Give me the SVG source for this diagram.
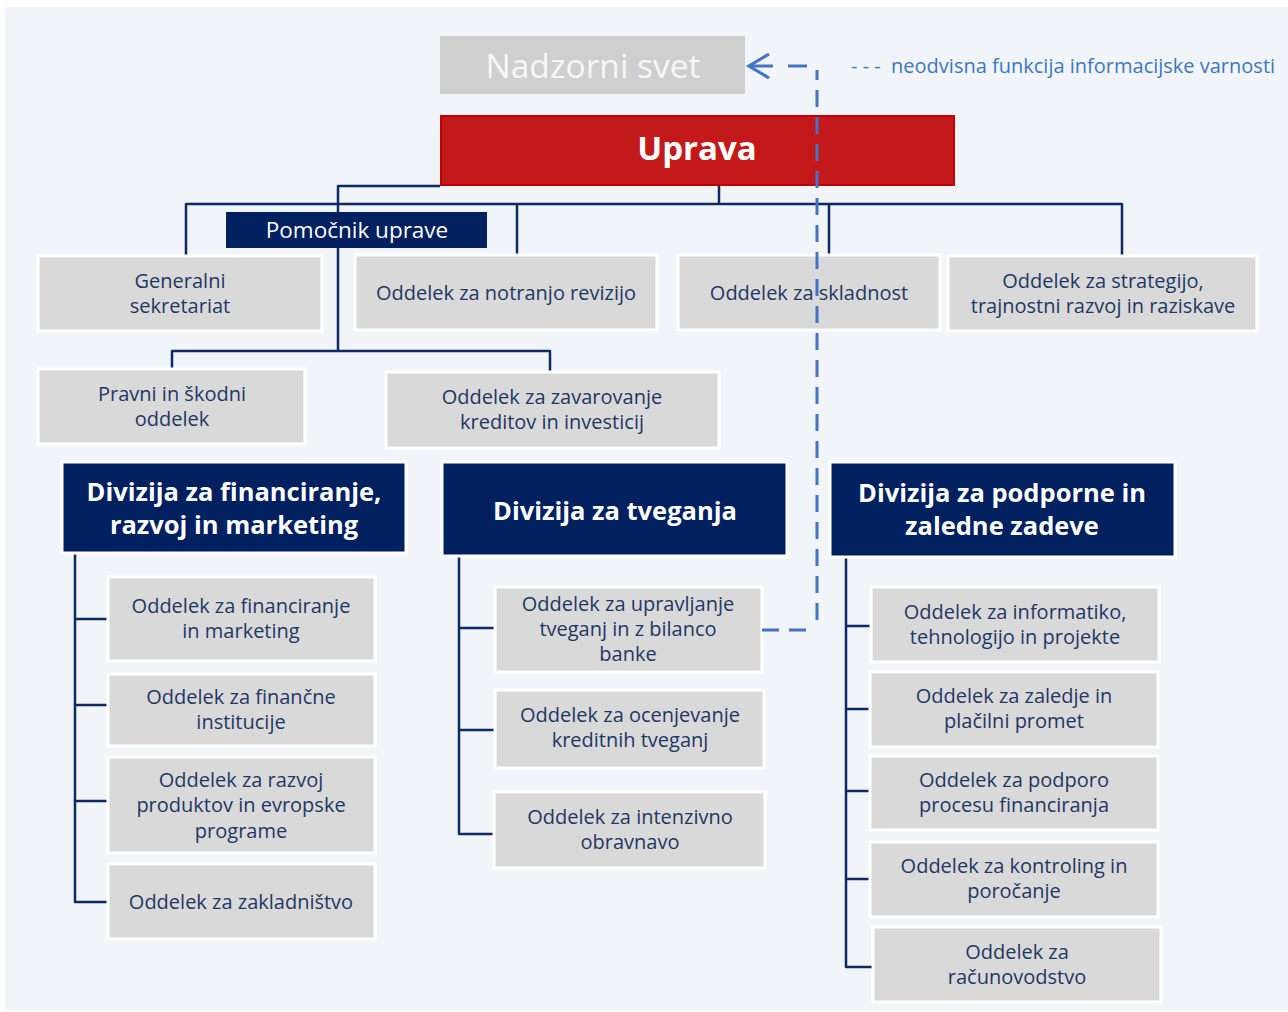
<svg xmlns="http://www.w3.org/2000/svg" width="1288" height="1012" viewBox="0 0 1288 1012">
<style>
.bg{fill:#f1f5f9}
.box{fill:#d9d9d9;stroke:#ffffff;stroke-width:3}
.div{fill:#002060;stroke:#ffffff;stroke-width:3}
.t{font-family:"Open Sans","Noto Sans",sans-serif;font-size:20px;fill:#1f3864;text-anchor:middle}
.dt{font-family:"Open Sans","Noto Sans",sans-serif;font-size:25.5px;font-weight:700;fill:#ffffff;text-anchor:middle}
.ln{fill:none;stroke:#0d2a66;stroke-width:2.5;stroke-linejoin:round}
.dash{fill:none;stroke:#4472c4;stroke-width:3;stroke-dasharray:17 10}
.sec{fill:none;stroke:#4472c4;stroke-width:3}
</style>
<defs>
<marker id="arr" markerWidth="26" markerHeight="28" refX="22" refY="13" orient="auto" markerUnits="userSpaceOnUse">
<path d="M2,1 L22,13 L2,25" fill="none" stroke="#4472c4" stroke-width="3.2"/>
</marker>
</defs>
<rect x="5" y="7" width="1283" height="1004" class="bg"/>

<g id="connectors">
<path class="ln" d="M440,186 H338 V351"/>
<path class="ln" d="M719,186 V204"/>
<path class="ln" d="M186,256 V204 H1122 V256"/>
<path class="ln" d="M517,204 V256"/>
<path class="ln" d="M829,204 V256"/>
<path class="ln" d="M172,370 V351 H550 V372"/>
<path class="ln" d="M75,553 V902 H108"/>
<path class="ln" d="M75,619 H108 M75,705 H108 M75,801 H108"/>
<path class="ln" d="M459,556 V834 H495"/>
<path class="ln" d="M459,628 H495 M459,730 H495"/>
<path class="ln" d="M846,557 V967 H873"/>
<path class="ln" d="M846,626 H871 M846,709 H870 M846,791 H870 M846,879 H870"/>
</g>

<g id="nadzorni-svet">
<rect x="440" y="36" width="305" height="58" fill="#d0cfd0"/>
<text x="593" y="78" font-family="'Open Sans','Noto Sans',sans-serif" font-size="33.5" fill="#f7f7f7" text-anchor="middle">Nadzorni svet</text>
</g>

<g id="uprava">
<rect x="441" y="116" width="513" height="69" fill="#c3191a" stroke="#c00000" stroke-width="2"/>
<text x="697" y="160" font-family="'Open Sans','Noto Sans',sans-serif" font-size="33" font-weight="700" fill="#ffffff" text-anchor="middle">Uprava</text>
</g>

<g id="pomocnik-uprave">
<rect x="226" y="212" width="261" height="36" fill="#002060"/>
<text x="357" y="238" font-family="'Open Sans','Noto Sans',sans-serif" font-size="22.5" fill="#ffffff" text-anchor="middle">Pomočnik uprave</text>
</g>

<g id="generalni-sekretariat">
<rect class="box" x="38" y="256" width="284" height="75"/>
<text class="t" x="180" y="288">Generalni</text>
<text class="t" x="180" y="313">sekretariat</text>
</g>
<g id="notranja-revizija">
<rect class="box" x="355" y="255" width="302" height="75"/>
<text class="t" x="506" y="300">Oddelek za notranjo revizijo</text>
</g>
<g id="skladnost">
<rect class="box" x="678" y="255" width="262" height="75"/>
<text class="t" x="809" y="300">Oddelek za skladnost</text>
</g>
<g id="strategija">
<rect class="box" x="948" y="256" width="309" height="75"/>
<text class="t" x="1103" y="288">Oddelek za strategijo,</text>
<text class="t" x="1103" y="313">trajnostni razvoj in raziskave</text>
</g>

<g id="pravni">
<rect class="box" x="38" y="369" width="267" height="75"/>
<text class="t" x="172" y="401">Pravni in škodni</text>
<text class="t" x="172" y="426">oddelek</text>
</g>
<g id="zavarovanje">
<rect class="box" x="386" y="372" width="333" height="76"/>
<text class="t" x="552" y="404">Oddelek za zavarovanje</text>
<text class="t" x="552" y="429">kreditov in investicij</text>
</g>

<g id="divizija-financiranje">
<rect class="div" x="62" y="462" width="344" height="91"/>
<text class="dt" x="234" y="501">Divizija za financiranje,</text>
<text class="dt" x="234" y="534">razvoj in marketing</text>
</g>
<g id="divizija-tveganja">
<rect class="div" x="442" y="462" width="345" height="94"/>
<text class="dt" x="615" y="520">Divizija za tveganja</text>
</g>
<g id="divizija-podporne">
<rect class="div" x="830" y="462" width="345" height="95"/>
<text class="dt" x="1002" y="502">Divizija za podporne in</text>
<text class="dt" x="1002" y="535">zaledne zadeve</text>
</g>

<g id="financiranje-marketing">
<rect class="box" x="108" y="577" width="267" height="84"/>
<text class="t" x="241" y="613">Oddelek za financiranje</text>
<text class="t" x="241" y="638">in marketing</text>
</g>
<g id="financne-institucije">
<rect class="box" x="108" y="674" width="267" height="72"/>
<text class="t" x="241" y="704">Oddelek za finančne</text>
<text class="t" x="241" y="729">institucije</text>
</g>
<g id="razvoj-produktov">
<rect class="box" x="108" y="757" width="267" height="96"/>
<text class="t" x="241" y="787">Oddelek za razvoj</text>
<text class="t" x="241" y="812">produktov in evropske</text>
<text class="t" x="241" y="838">programe</text>
</g>
<g id="zakladnistvo">
<rect class="box" x="108" y="864" width="267" height="75"/>
<text class="t" x="241" y="909">Oddelek za zakladništvo</text>
</g>

<g id="upravljanje-tveganj">
<rect class="box" x="495" y="587" width="267" height="85"/>
<text class="t" x="628" y="611">Oddelek za upravljanje</text>
<text class="t" x="628" y="636">tveganj in z bilanco</text>
<text class="t" x="628" y="661">banke</text>
</g>
<g id="ocenjevanje">
<rect class="box" x="495" y="690" width="269" height="78"/>
<text class="t" x="630" y="722">Oddelek za ocenjevanje</text>
<text class="t" x="630" y="747">kreditnih tveganj</text>
</g>
<g id="intenzivno">
<rect class="box" x="494" y="792" width="271" height="76"/>
<text class="t" x="630" y="824">Oddelek za intenzivno</text>
<text class="t" x="630" y="849">obravnavo</text>
</g>

<g id="informatika">
<rect class="box" x="871" y="587" width="288" height="75"/>
<text class="t" x="1015" y="619">Oddelek za informatiko,</text>
<text class="t" x="1015" y="644">tehnologijo in projekte</text>
</g>
<g id="zaledje">
<rect class="box" x="870" y="672" width="288" height="75"/>
<text class="t" x="1014" y="703">Oddelek za zaledje in</text>
<text class="t" x="1014" y="728">plačilni promet</text>
</g>
<g id="podpora">
<rect class="box" x="870" y="756" width="288" height="74"/>
<text class="t" x="1014" y="787">Oddelek za podporo</text>
<text class="t" x="1014" y="812">procesu financiranja</text>
</g>
<g id="kontroling">
<rect class="box" x="870" y="842" width="288" height="75"/>
<text class="t" x="1014" y="873">Oddelek za kontroling in</text>
<text class="t" x="1014" y="898">poročanje</text>
</g>
<g id="racunovodstvo">
<rect class="box" x="873" y="927" width="288" height="75"/>
<text class="t" x="1017" y="959">Oddelek za</text>
<text class="t" x="1017" y="984">računovodstvo</text>
</g>

<g id="info-security">
<path class="dash" d="M762,630 H812 M817,620 V70"/>
<path class="sec" d="M807,66 H788"/>
<path class="sec" d="M773,66 H749" marker-end="url(#arr)"/>
</g>

<g id="legend">
<text x="851" y="73" font-family="'Open Sans','Noto Sans',sans-serif" font-size="20" fill="#3a78c2" xml:space="preserve">- - -  neodvisna funkcija informacijske varnosti</text>
</g>
</svg>
